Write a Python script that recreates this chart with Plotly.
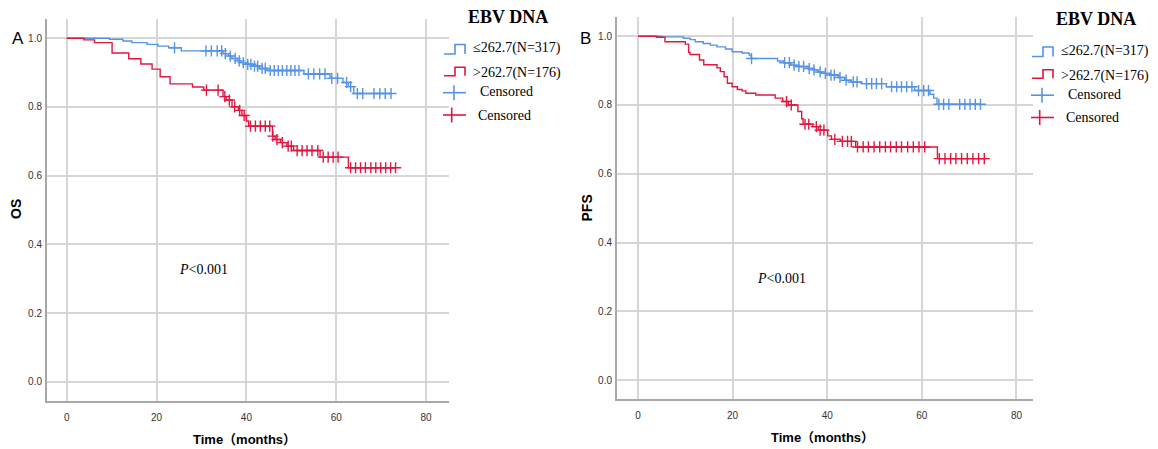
import numpy as np
import plotly.graph_objects as go

# ---------------- DATA ----------------
# Panel A: OS
os_low_t = [0, 9.5, 12.5, 14.5, 17.9, 20.3, 22.7, 25.5, 34.8, 36.0, 36.8, 38.0, 38.8, 40.0, 41.3, 42.9, 44.6, 52.8, 58.6, 61.5, 62.7, 63.9]
os_low_s = [1.0, 0.997, 0.992, 0.987, 0.982, 0.977, 0.972, 0.963, 0.955, 0.948, 0.941, 0.934, 0.929, 0.924, 0.919, 0.912, 0.906, 0.896, 0.883, 0.871, 0.859, 0.839]
os_low_end = 72.4
os_low_cens = [24, 31, 32.2, 33.5, 34.5, 35.3, 36.4, 37.5, 38.4, 39.3, 40.3, 41.0, 41.8, 42.5, 43.5, 44.2, 45.3, 46.2, 47.1, 48.0, 49.0, 49.9, 50.8, 51.7,
               53.8, 55.0, 56.3, 57.5, 59.0, 60.3, 62.3, 63.2, 64.7, 65.9, 68.4, 69.7, 70.9, 72.2]

os_high_t = [0, 3.8, 6.2, 10.1, 13.8, 16.5, 19.0, 20.8, 23.0, 28.0, 30.5, 34.8, 35.5, 36.8, 38.2, 39.0, 40.0, 40.5, 45.8, 46.4, 47.6, 49.0, 50.5, 56.4, 62.7]
os_high_s = [1.0, 0.995, 0.987, 0.957, 0.940, 0.925, 0.910, 0.888, 0.867, 0.858, 0.849, 0.830, 0.820, 0.800, 0.790, 0.775, 0.759, 0.744, 0.715, 0.705, 0.696, 0.686, 0.673, 0.654, 0.623]
os_high_end = 73.2
os_high_cens = [31.1, 33.7, 35.2, 36.2, 37.4, 38.5, 39.5, 40.9, 42.0, 43.1, 44.2, 45.2, 45.9, 46.8, 48.0, 49.3, 50.0, 51.3, 52.4, 53.5, 54.6, 55.9,
                57.1, 58.2, 59.3, 60.4, 63.2, 64.3, 65.4, 66.5, 67.7, 68.8, 69.9, 71.0, 72.1, 73.2]

# Panel B: PFS
pfs_low_t = [0, 5.0, 9.6, 11.0, 12.1, 13.8, 15.3, 16.7, 18.5, 19.9, 22.0, 23.5, 23.9, 29.5, 30.8, 32.3, 33.5, 35.9, 37.0, 38.0, 39.0, 40.5, 42.3,
             43.7, 45.1, 47.2, 52.5, 58.5, 61.7, 62.5, 63.2]
pfs_low_s = [1.0, 0.998, 0.994, 0.990, 0.984, 0.979, 0.974, 0.969, 0.963, 0.955, 0.951, 0.945, 0.935, 0.928, 0.923, 0.916, 0.912, 0.906, 0.902, 0.896,
             0.892, 0.887, 0.880, 0.872, 0.867, 0.862, 0.853, 0.842, 0.831, 0.820, 0.802]
pfs_low_end = 72.5
pfs_low_cens = [24, 31, 32, 33, 34, 35, 36.2, 37.2, 38.5, 39.6, 40.8, 41.5, 42.7, 44.0, 45.5, 46.3, 48.3, 49.4, 50.4, 51.5, 53.6, 54.7, 55.7, 56.8,
                57.9, 59.3, 60.4, 61.4, 63.6, 64.6, 65.7, 68.0, 69.1, 70.2, 71.3, 72.4]

pfs_high_t = [0, 3.9, 5.7, 10.0, 10.7, 11.0, 13.0, 13.9, 16.7, 17.4, 18.2, 18.9, 19.9, 21.0, 22.0, 22.8, 24.9, 29.0, 30.6, 31.8, 33.8, 34.6, 34.9,
              36.9, 38.1, 40.1, 40.9, 42.8, 46.0, 63.3]
pfs_high_s = [1.0, 0.997, 0.984, 0.977, 0.953, 0.947, 0.931, 0.917, 0.908, 0.897, 0.882, 0.863, 0.853, 0.845, 0.841, 0.834, 0.829, 0.820, 0.810,
              0.800, 0.781, 0.760, 0.744, 0.737, 0.727, 0.710, 0.700, 0.694, 0.678, 0.644]
pfs_high_end = 73.6
pfs_high_cens = [31.4, 32.4, 35.3, 36.1, 37.7, 38.5, 39.3, 41.6, 43.2, 44.3, 45.1, 46.4, 47.6, 48.7, 49.9, 51.1, 52.3, 53.4, 54.6, 55.7, 57.0,
                 58.2, 59.4, 60.6, 63.7, 64.9, 66.1, 67.2, 68.4, 69.6, 70.8, 72.0, 73.2]

x_ticks = [0, 20, 40, 60, 80]
y_ticks = [0.0, 0.2, 0.4, 0.6, 0.8, 1.0]
group_labels = ["≤262.7(N=317)", ">262.7(N=176)"]
censor_label = "Censored"
legend_title = "EBV DNA"
panel_letters = ["A", "B"]
y_titles = ["OS", "PFS"]
x_title = "Time（months）"
p_text = "<i>P</i>&lt;0.001"

BLUE = "#5593e6"
RED = "#e0173f"

W, H = 1158, 449


def fx(x):
    return x / W


def fy(y):
    return 1 - y / H


fig = go.Figure()


def add_curve(t, s, end, cens, color, xa, ya):
    xs = list(t) + [end]
    ys = list(s) + [s[-1]]
    fig.add_trace(go.Scatter(x=xs, y=ys, mode="lines", line=dict(color=color, width=1.4, shape="hv"),
                             xaxis=xa, yaxis=ya, showlegend=False, hoverinfo="skip"))
    ta = np.array(t)
    sa = np.array(s)
    idx = np.searchsorted(ta, np.array(cens), side="right") - 1
    fig.add_trace(go.Scatter(x=cens, y=sa[idx], mode="markers",
                             marker=dict(symbol="cross-thin", size=8, line=dict(color=color, width=1.4)),
                             xaxis=xa, yaxis=ya, showlegend=False, hoverinfo="skip"))


add_curve(os_low_t, os_low_s, os_low_end, os_low_cens, BLUE, "x", "y")
add_curve(os_high_t, os_high_s, os_high_end, os_high_cens, RED, "x", "y")
add_curve(pfs_low_t, pfs_low_s, pfs_low_end, pfs_low_cens, BLUE, "x2", "y2")
add_curve(pfs_high_t, pfs_high_s, pfs_high_end, pfs_high_cens, RED, "x2", "y2")

tick_font = dict(family="Liberation Sans Narrow, Arial Narrow, Liberation Sans, Arial", size=10, color="#333333")
grid_col = "#d6d6d6"
line_col = "#a8a8a8"

common_x = dict(tickvals=x_ticks, ticktext=[str(v) for v in x_ticks], showgrid=True, gridcolor=grid_col, gridwidth=1.6,
                zeroline=False, showline=True, linecolor=line_col, linewidth=2, ticks="", tickfont=tick_font,
                ticklabelstandoff=6)
common_y = dict(tickvals=y_ticks, ticktext=["%.1f" % v for v in y_ticks], showgrid=True, gridcolor=grid_col, gridwidth=1.6,
                zeroline=False, showline=True, linecolor=line_col, linewidth=2, ticks="", tickfont=tick_font,
                ticklabelstandoff=1)

fig.update_layout(
    width=W, height=H, margin=dict(l=0, r=0, t=0, b=0),
    paper_bgcolor="white", plot_bgcolor="white",
    xaxis=dict(domain=[fx(47), fx(449)], range=[-4.39, 85.1], anchor="y", **common_x),
    yaxis=dict(domain=[fy(400.7), fy(19.3)], range=[-0.055, 1.055], anchor="x", **common_y),
    xaxis2=dict(domain=[fx(617), fx(1033)], range=[-4.44, 83.5], anchor="y2", **common_x),
    yaxis2=dict(domain=[fy(399.3), fy(17.3)], range=[-0.056, 1.055], anchor="x2", **common_y),
)

annotations = []
shapes = []
serif = "Liberation Serif, Times New Roman, serif"
sans_bold = "Liberation Sans, Arial, sans-serif"
narrow_bold = "Liberation Sans Narrow, Arial Narrow, Liberation Sans, Noto Sans CJK SC"

panels = [
    dict(dx=0, dy=0, letter_x=17.5, ytitle_x=16, ytitle_y=209, xtitle_x=244, xtitle_y=439, p_x=203, p_y=269, title_dy=0),
    dict(dx=588, dy=2.5, letter_x=585, ytitle_x=586.5, ytitle_y=208, xtitle_x=822, xtitle_y=437, p_x=781, p_y=278, title_dy=1),
]

for i, p in enumerate(panels):
    annotations.append(dict(x=fx(p["letter_x"]), y=fy(38), xref="paper", yref="paper", text=panel_letters[i], showarrow=False,
                            xanchor="center", yanchor="middle", font=dict(family=sans_bold, size=17, color="black")))
    annotations.append(dict(x=fx(p["ytitle_x"]), y=fy(p["ytitle_y"]), xref="paper", yref="paper", text="<b>%s</b>" % y_titles[i],
                            showarrow=False, textangle=-90, xanchor="center", yanchor="middle",
                            font=dict(family=sans_bold, size=14, color="black")))
    annotations.append(dict(x=fx(p["xtitle_x"]), y=fy(p["xtitle_y"]), xref="paper", yref="paper", text="<b>%s</b>" % x_title,
                            showarrow=False, xanchor="center", yanchor="middle",
                            font=dict(family=narrow_bold, size=13, color="black")))
    annotations.append(dict(x=fx(p["p_x"]), y=fy(p["p_y"]), xref="paper", yref="paper", text=p_text, showarrow=False,
                            xanchor="center", yanchor="middle", font=dict(family=serif, size=14, color="black")))
    dx, dy = p["dx"], p["dy"]
    # legend title
    annotations.append(dict(x=fx(507.5 + dx), y=fy(17.5 + p["title_dy"]), xref="paper", yref="paper",
                            text="<b>%s</b>" % legend_title, showarrow=False, xanchor="center", yanchor="middle",
                            font=dict(family=serif, size=18, color="black")))
    # step icons
    for col, ylow, yhigh, ytxt, lab in [(BLUE, 54, 44.5, 48.5, group_labels[0]), (RED, 75.7, 67.3, 73.3, group_labels[1])]:
        path = "M %.5f,%.5f L %.5f,%.5f L %.5f,%.5f L %.5f,%.5f L %.5f,%.5f" % (
            fx(444 + dx), fy(ylow + dy), fx(455 + dx), fy(ylow + dy), fx(455 + dx), fy(yhigh + dy),
            fx(465 + dx), fy(yhigh + dy), fx(465 + dx), fy(ylow + dy))
        shapes.append(dict(type="path", path=path, xref="paper", yref="paper", line=dict(color=col, width=1.6)))
        annotations.append(dict(x=fx(471 + dx), y=fy(ytxt + dy), xref="paper", yref="paper", text=lab, showarrow=False,
                                xanchor="left", yanchor="middle", font=dict(family=serif, size=14, color="black")))
    # censored icons
    for col, yl, xc, xtxt, ytxt in [(BLUE, 92.7, 454, 478, 91.7), (RED, 115, 451.7, 476, 115)]:
        shapes.append(dict(type="line", xref="paper", yref="paper", x0=fx(443 + dx), x1=fx(466 + dx), y0=fy(yl + dy), y1=fy(yl + dy),
                           line=dict(color=col, width=1.6)))
        shapes.append(dict(type="line", xref="paper", yref="paper", x0=fx(xc + dx), x1=fx(xc + dx), y0=fy(yl - 7.5 + dy), y1=fy(yl + 7.5 + dy),
                           line=dict(color=col, width=1.6)))
        annotations.append(dict(x=fx(xtxt + dx), y=fy(ytxt + dy), xref="paper", yref="paper", text=censor_label, showarrow=False,
                                xanchor="left", yanchor="middle", font=dict(family=serif, size=14, color="black")))

fig.update_layout(annotations=annotations, shapes=shapes)
fig.write_html("out.html", config={"displayModeBar": False},
               post_script="document.body.style.margin='0';document.body.style.overflow='hidden';")
